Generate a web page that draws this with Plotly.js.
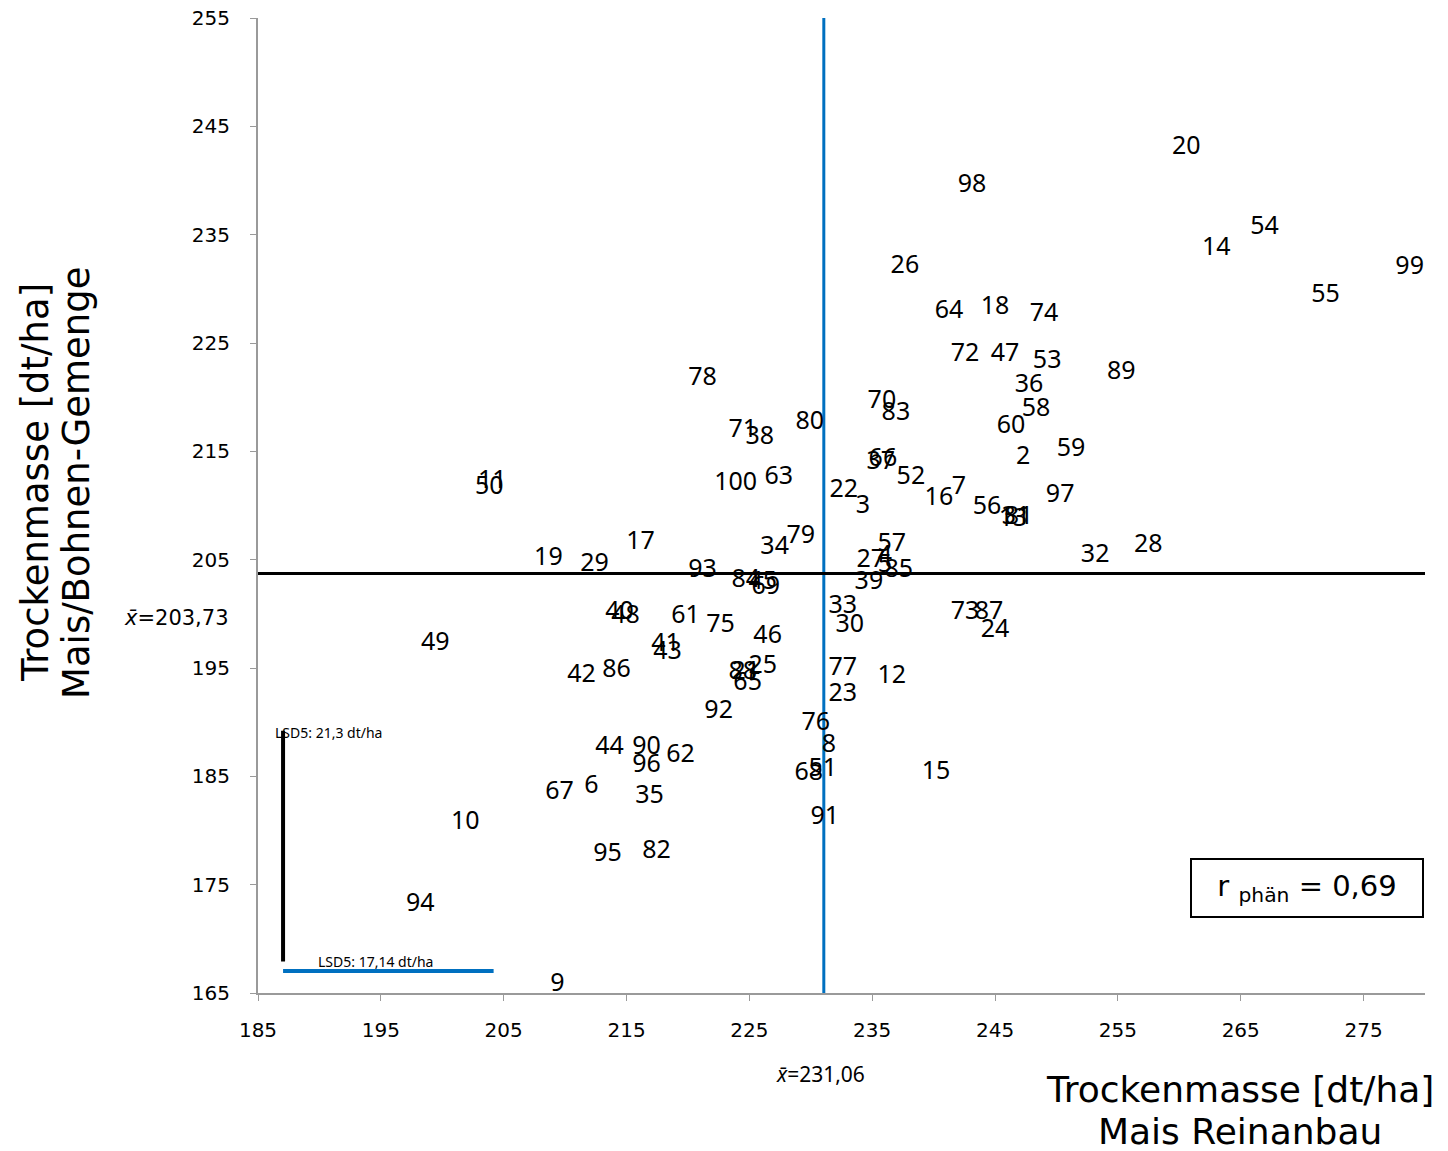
<!DOCTYPE html>
<html>
<head>
<meta charset="utf-8">
<script src="https://cdn.plot.ly/plotly-3.0.1.min.js"></script>
<style>html,body{margin:0;padding:0;background:#fff;}#chart{width:1448px;height:1151px;}</style>
</head>
<body>
<div id="chart"></div>
<script>
// Genotype labels and their dry-matter yields
const genotypes = ["20","98","14","54","99","26","55","64","18","74","72","47","53","89","36","78","70","83","58","60","71","38","80","59","2","37","66","52","100","63","11","50","22","3","16","7","97","56","13","81","31","79","34","57","17","19","29","27","4","5","32","28","93","84","45","69","85","39","40","48","61","33","75","30","73","87","49","24","46","41","43","42","86","88","21","25","65","77","12","23","92","76","8","44","90","62","96","68","51","15","67","6","35","10","91","95","82","94","9"];
// Trockenmasse Mais Reinanbau [dt/ha]
const maisRein = [260.57,243.12,263.01,266.93,278.75,237.66,271.9,241.25,245.0,248.99,242.55,245.81,249.24,255.27,247.77,221.19,235.79,236.93,248.34,246.3,224.46,225.84,229.92,251.19,247.28,235.7,235.87,238.15,223.89,227.39,204.08,203.83,232.69,234.24,240.43,242.06,250.3,244.35,246.47,246.96,246.71,229.18,227.06,236.6,216.14,208.64,212.39,234.89,236.03,236.03,253.15,257.47,221.19,224.70,226.09,226.33,237.17,234.73,214.43,214.92,219.81,232.61,222.66,233.18,242.55,244.51,199.43,245.0,226.49,218.18,218.34,211.33,214.18,224.46,224.70,226.09,224.86,232.61,236.6,232.61,222.5,230.41,231.47,213.61,216.63,219.40,216.63,229.84,230.98,240.19,209.54,212.15,216.87,201.87,231.14,213.45,217.44,198.21,209.37];
// Trockenmasse Mais/Bohnen-Gemenge [dt/ha]
const gemenge = [243.0,239.49,233.68,235.62,231.92,232.01,229.34,227.86,228.23,227.58,223.89,223.89,223.25,222.23,221.03,221.68,219.55,218.45,218.81,217.24,216.88,216.23,217.61,215.12,214.38,213.92,214.2,212.54,211.98,212.54,212.17,211.61,211.34,209.86,210.6,211.61,210.88,209.77,208.66,208.84,208.84,207.09,206.08,206.35,206.54,205.06,204.51,204.88,205.25,204.41,205.34,206.26,203.95,203.03,202.85,202.38,203.95,202.85,200.08,199.71,199.71,200.63,198.88,198.88,200.08,200.08,197.21,198.41,197.86,197.12,196.38,194.26,194.72,194.54,194.6,195.09,193.52,194.91,194.17,192.51,190.94,189.83,187.8,187.61,187.61,186.88,185.95,185.21,185.58,185.3,183.46,184.01,183.08,180.71,181.15,177.74,178.02,173.12,165.74];

const meanX = 231.06;
const meanY = 203.73;
const lsdY = 21.3;   // LSD5 Gemenge
const lsdX = 17.14;  // LSD5 Reinanbau
const lsdOrigin = [187.04, 167.9];
const rPhaen = "0,69";
const xRange = [185, 280];
const yRange = [165, 255];

const fLabel = "Noto Sans, Open Sans, sans-serif";
const fAxis = "DejaVu Sans, Verdana, sans-serif";

const traces = [
  {type:"scatter", mode:"lines", x:[meanX, meanX], y:yRange, line:{color:"#0070C0", width:3}, hoverinfo:"skip"},
  {type:"scatter", mode:"lines", x:xRange, y:[meanY, meanY], line:{color:"#000000", width:3}, hoverinfo:"skip"},
  {type:"scatter", mode:"lines", x:[lsdOrigin[0], lsdOrigin[0]], y:[lsdOrigin[1], lsdOrigin[1]+lsdY], line:{color:"#000000", width:4}, hoverinfo:"skip"},
  {type:"scatter", mode:"lines", x:[lsdOrigin[0], lsdOrigin[0]+lsdX], y:[167.03, 167.03], line:{color:"#0070C0", width:4}, hoverinfo:"skip"},
  {type:"scatter", mode:"text", x:maisRein, y:gemenge, text:genotypes, textposition:"middle center",
   textfont:{family:fLabel, size:25, color:"#000"}, hoverinfo:"skip", cliponaxis:false}
];

function ann(o){ return Object.assign({showarrow:false, xanchor:"center", yanchor:"middle"}, o); }

const layout = {
  width:1448, height:1151,
  margin:{l:258, r:23, t:18, b:158},
  paper_bgcolor:"#fff", plot_bgcolor:"#fff",
  showlegend:false, hovermode:false,
  xaxis:{range:xRange, tick0:185, dtick:10, showgrid:false, zeroline:false,
    showline:true, linecolor:"#9a9a9a", linewidth:2, ticks:"outside", ticklen:6, tickcolor:"#9a9a9a", tickwidth:1,
    ticklabelstandoff:12, tickfont:{family:fAxis, size:20, color:"#000"}},
  yaxis:{range:yRange, tick0:165, dtick:10, showgrid:false, zeroline:false,
    showline:true, linecolor:"#9a9a9a", linewidth:2, ticks:"outside", ticklen:6, tickcolor:"#9a9a9a", tickwidth:1,
    ticklabelstandoff:16, tickfont:{family:fAxis, size:20, color:"#000"}},
  annotations:[
    ann({xref:"paper", yref:"paper", x:(35-258)/1167, y:(993-483)/975, text:"Trockenmasse [dt/ha]",
     textangle:-90, font:{family:fAxis, size:37, color:"#000"}}),
    ann({xref:"paper", yref:"paper", x:(76-258)/1167, y:(993-483)/975, text:"Mais/Bohnen-Gemenge",
     textangle:-90, font:{family:fAxis, size:37, color:"#000"}}),
    ann({xref:"paper", yref:"paper", x:(1240-258)/1167, y:(993-1089)/975, text:"Trockenmasse [dt/ha]",
     font:{family:fAxis, size:36, color:"#000"}}),
    ann({xref:"paper", yref:"paper", x:(1240-258)/1167, y:(993-1131)/975, text:"Mais Reinanbau",
     font:{family:fAxis, size:36, color:"#000"}}),
    ann({xref:"paper", yref:"y", x:(231-258)/1167, y:199.6, xanchor:"right", text:"<i>x̄</i>=203,73",
     font:{family:fAxis, size:21, color:"#000"}}),
    ann({xref:"x", yref:"paper", x:230.8, y:(993-1074)/975, text:"<i>x̄</i>=231,06",
     font:{family:fLabel, size:21, color:"#000"}}),
    ann({xref:"x", yref:"y", x:186.22, y:189.09, xanchor:"left", text:"LSD5: 21,3 dt/ha",
     font:{family:fLabel, size:14, color:"#000"}}),
    ann({xref:"x", yref:"y", x:189.73, y:167.95, xanchor:"left", text:"LSD5: 17,14 dt/ha",
     font:{family:fLabel, size:14, color:"#000"}}),
    ann({xref:"paper", yref:"paper", x:(1307-258)/1167, y:(993-888)/975, text:"r <sub>phän</sub> = " + rPhaen,
     font:{family:fAxis, size:29, color:"#000"},
     bordercolor:"#000", borderwidth:2, borderpad:2, width:226, height:52, bgcolor:"#fff"})
  ]
};

Plotly.newPlot("chart", traces, layout, {staticPlot:true, displayModeBar:false});
</script>
</body>
</html>
